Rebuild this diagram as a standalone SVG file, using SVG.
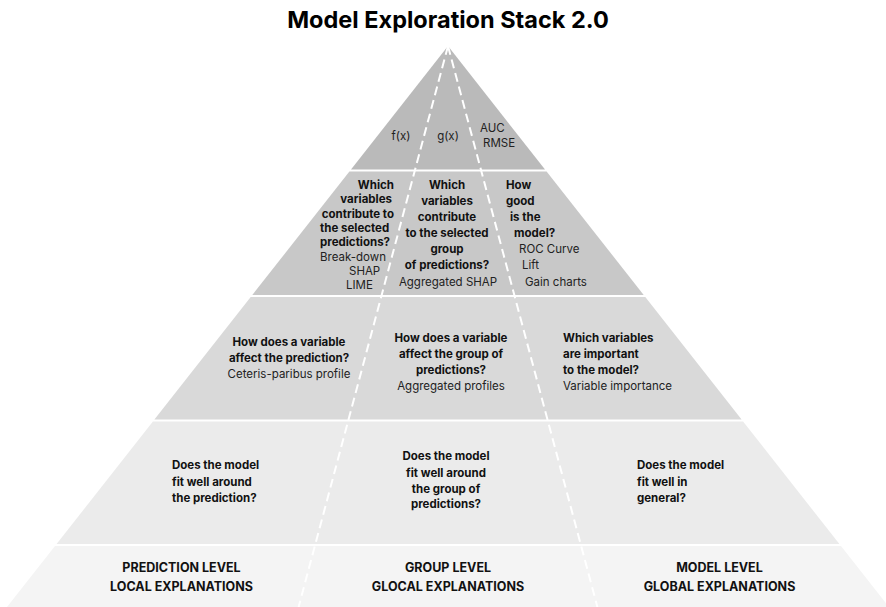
<svg xmlns="http://www.w3.org/2000/svg" width="886" height="607" viewBox="0 0 886 607">
<style>
text{font-family:Inter,"Noto Sans","Liberation Sans",sans-serif;font-size:11.5px;fill:#111}
.b{font-weight:700}
.n{font-weight:400;fill:#222}
.c{text-anchor:middle}
.e{text-anchor:end}
.lvl{font-weight:700;font-size:12.5px;text-anchor:middle}
.title{font-weight:700;font-size:23.5px;text-anchor:middle;fill:#000}
.dash{stroke:#fff;stroke-width:2;stroke-dasharray:9 5;fill:none}
</style>
<rect width="886" height="607" fill="#fff"/>
<text class="title" x="448" y="28">Model Exploration Stack 2.0</text>

<g id="band1">
<polygon points="448,46 545,169.5 351,169.5" fill="#bababa"/>
<text class="n c" x="401" y="140">f(x)</text>
<text class="n c" x="448" y="140">g(x)</text>
<text class="n" x="480" y="132">AUC</text>
<text class="n" x="483" y="147">RMSE</text>
</g>

<g id="band2">
<polygon points="349.4,171.5 546.6,171.5 643.7,295 252.3,295" fill="#c8c8c8"/>
<g id="b2-local">
<text class="b e" x="394" y="189">Which</text>
<text class="b e" x="392" y="203.3">variables</text>
<text class="b e" x="394" y="217.6">contribute to</text>
<text class="b" x="320" y="231.9">the selected</text>
<text class="b" x="320" y="246.2">predictions?</text>
<text class="n" x="320" y="260.5">Break-down</text>
<text class="n" x="349" y="274.8">SHAP</text>
<text class="n" x="346" y="289.1">LIME</text>
</g>
<g id="b2-group">
<text class="b c" x="447" y="189">Which</text>
<text class="b c" x="447" y="205">variables</text>
<text class="b c" x="447" y="221">contribute</text>
<text class="b c" x="447" y="237">to the selected</text>
<text class="b c" x="447" y="253">group</text>
<text class="b c" x="447" y="269">of predictions?</text>
<text class="n c" x="448" y="285.5">Aggregated SHAP</text>
</g>
<g id="b2-model">
<text class="b" x="506" y="189">How</text>
<text class="b" x="506" y="205">good</text>
<text class="b" x="510" y="221">is the</text>
<text class="b" x="514" y="237">model?</text>
<text class="n" x="519" y="253">ROC Curve</text>
<text class="n" x="522" y="269">Lift</text>
<text class="n" x="525" y="285.5">Gain charts</text>
</g>
</g>

<g id="band3">
<polygon points="250.7,297 645.3,297 741.6,419.5 154.4,419.5" fill="#d9d9d9"/>
<g id="b3-local">
<text class="b c" x="289" y="346">How does a variable</text>
<text class="b c" x="289" y="362">affect the prediction?</text>
<text class="n c" x="289" y="378">Ceteris-paribus profile</text>
</g>
<g id="b3-group">
<text class="b c" x="451" y="341.5">How does a variable</text>
<text class="b c" x="451" y="357.5">affect the group of</text>
<text class="b c" x="451" y="373.5">predictions?</text>
<text class="n c" x="451" y="389.5">Aggregated profiles</text>
</g>
<g id="b3-model">
<text class="b" x="563" y="341.5">Which variables</text>
<text class="b" x="563" y="357.5">are important</text>
<text class="b" x="563" y="373.5">to the model?</text>
<text class="n" x="563" y="389.5">Variable importance</text>
</g>
</g>

<g id="band4">
<polygon points="152.9,421.5 743.1,421.5 839.4,544 56.6,544" fill="#ebebeb"/>
<g id="b4-local">
<text class="b" x="172" y="469">Does the model</text>
<text class="b" x="172" y="485.5">fit well around</text>
<text class="b" x="172" y="502">the prediction?</text>
</g>
<g id="b4-group">
<text class="b c" x="446" y="460">Does the model</text>
<text class="b c" x="446" y="476.5">fit well around</text>
<text class="b c" x="446" y="493">the group of</text>
<text class="b c" x="446" y="508">predictions?</text>
</g>
<g id="b4-model">
<text class="b" x="637" y="469">Does the model</text>
<text class="b" x="637" y="485.5">fit well in</text>
<text class="b" x="637" y="502">general?</text>
</g>
</g>

<g id="band5">
<polygon points="55,546 841,546 889,607 7,607" fill="#f4f4f4"/>
<g id="b5-local">
<text class="lvl" x="181.5" y="571.5">PREDICTION LEVEL</text>
<text class="lvl" x="181.5" y="591">LOCAL EXPLANATIONS</text>
</g>
<g id="b5-group">
<text class="lvl" x="448" y="571.5">GROUP LEVEL</text>
<text class="lvl" x="448" y="591">GLOCAL EXPLANATIONS</text>
</g>
<g id="b5-model">
<text class="lvl" x="719.5" y="571.5">MODEL LEVEL</text>
<text class="lvl" x="719.5" y="591">GLOBAL EXPLANATIONS</text>
</g>
</g>

<g id="connectors">
<line class="dash" x1="448" y1="46" x2="298.6" y2="607"/>
<line class="dash" x1="448" y1="46" x2="597.4" y2="607"/>
</g>
</svg>
